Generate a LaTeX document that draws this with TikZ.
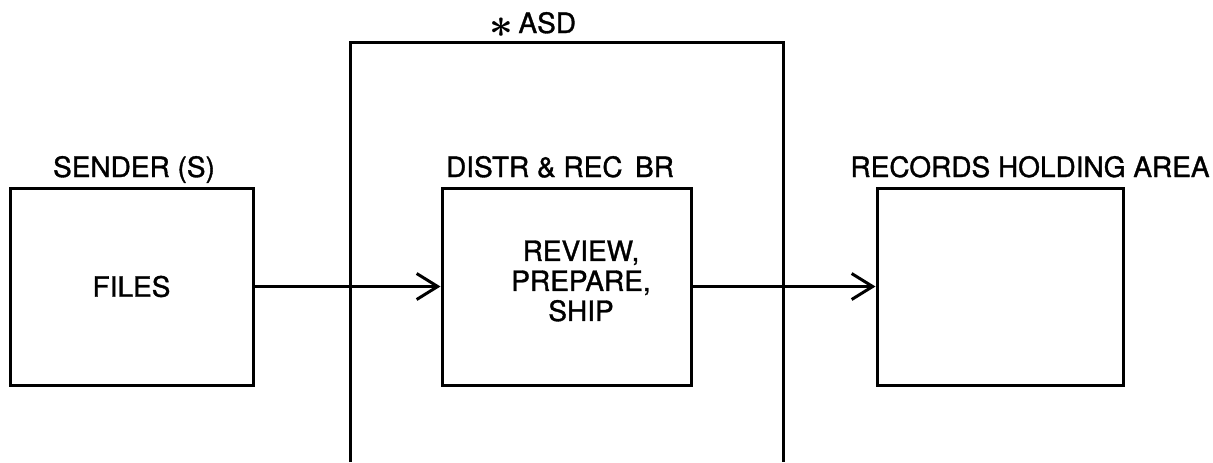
\documentclass[tikz,border=0pt]{standalone}
\usepackage{amsmath}
\usepackage{fontspec}
\setmainfont[FakeBold=1.2]{TeX Gyre Heros}
\usetikzlibrary{arrows.meta}
\begin{document}
\begin{tikzpicture}[x=0.5pt,y=-0.5pt,
  every node/.style={font=\fontsize{14pt}{15pt}\selectfont},
  boxnode/.style={draw,line width=1.5pt,minimum height=98.5pt,inner sep=0pt,align=center},
  lbl/.style={anchor=base,inner sep=0pt},
  arr/.style={line width=1.5pt,-{Straight Barb[length=10.5pt,width=13pt,line width=1.5pt]}},
  frame/.style={line width=1.5pt}]
\useasboundingbox (0,0) rectangle (1213,462);
\node[boxnode,minimum width=121.5pt] (files) at (131.5,286.5) {FILES};
\node[boxnode,minimum width=124.5pt] (proc) at (566.5,286.5) {};
\node[align=center,inner sep=0pt] (proctext) at (581,281) {REVIEW,\\PREPARE,\\SHIP};
\node[boxnode,minimum width=123pt] (rec) at (1000,286.5) {};
\coordinate (asdbl) at (350,462);
\coordinate (asdtr) at (783,42);
\coordinate (asdbr) at (783,462);
\draw[frame] (asdbl) |- (asdtr) -- (asdbr);
\node[lbl] (lsender) at (134,177) {SENDER (S)};
\node[lbl] (ldistr) at (560,177) {DISTR \& REC\, BR};
\node[lbl] (lrec) at (1030,177) {RECORDS HOLDING AREA};
\node[lbl] (lasd) at (533,33) {\raisebox{-2.2pt}{\fontsize{22pt}{22pt}\selectfont$\boldsymbol{\ast}$}\,ASD};
\draw[arr] (files.east) -- (proc.west);
\draw[arr] (proc.east) -- (rec.west);
\end{tikzpicture}
\end{document}
